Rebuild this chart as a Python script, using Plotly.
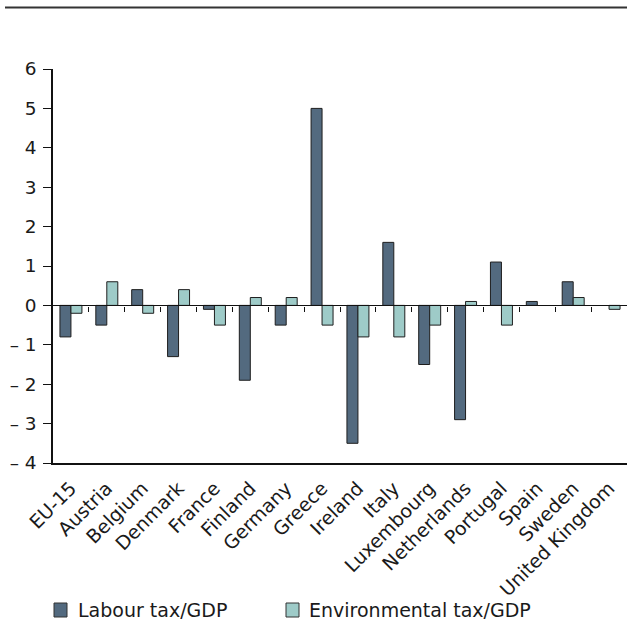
import plotly.graph_objects as go

countries = ["EU-15", "Austria", "Belgium", "Denmark", "France", "Finland",
             "Germany", "Greece", "Ireland", "Italy", "Luxembourg", "Netherlands",
             "Portugal", "Spain", "Sweden", "United Kingdom"]
labour_tax = [-0.8, -0.5, 0.4, -1.3, -0.1, -1.9, -0.5, 5.0, -3.5, 1.6, -1.5, -2.9,
              1.1, 0.1, 0.6, 0.0]
env_tax = [-0.2, 0.6, -0.2, 0.4, -0.5, 0.2, 0.2, -0.5, -0.8, -0.8, -0.5, 0.1,
           -0.5, 0.0, 0.2, -0.1]
series_names = ["Labour tax/GDP", "Environmental tax/GDP"]
y_ticks = [-4, -3, -2, -1, 0, 1, 2, 3, 4, 5, 6]
y_tick_text = ["\u2013 4", "\u2013 3", "\u2013 2", "\u2013 1", "0", "1", "2", "3", "4", "5", "6"]

FONT = "DejaVu Sans, Verdana, sans-serif"
FSIZE = 19
YSIZE = 18.5
DARK = "#536a7f"
LIGHT = "#9ecbc8"
EDGE = "#1e1e1e"
TEXT = "#1a1a1a"

W, H = 627, 621
L, R, T, B = 53, 0, 69, 158
plot_w = W - L - R
plot_h = H - T - B


def px_x(px):
    return (px - L) / plot_w


def px_y(px):
    return (T + plot_h - px) / plot_h


def edge_widths(values):
    # no outline on empty bars so they leave no sliver on the zero line
    return [0 if v == 0 else 1 for v in values]


fig = go.Figure()
fig.add_trace(go.Bar(x=list(range(len(countries))), y=labour_tax, name=series_names[0],
                     marker=dict(color=DARK, line=dict(color=EDGE, width=edge_widths(labour_tax)))))
fig.add_trace(go.Bar(x=list(range(len(countries))), y=env_tax, name=series_names[1],
                     marker=dict(color=LIGHT, line=dict(color=EDGE, width=edge_widths(env_tax)))))

y_lo, y_hi = -4, 6
zero_pos = (0 - y_lo) / (y_hi - y_lo)

# key below the chart: swatch + label for each series
shapes = [dict(type="line", xref="paper", yref="paper",
               x0=px_x(5), x1=1.0, y0=px_y(7.5), y1=px_y(7.5),
               line=dict(color="#333333", width=2))]
annotations = []
key_y = 610
for name, color, box_left, text_left in [(series_names[0], DARK, 54, 76),
                                          (series_names[1], LIGHT, 286, 307)]:
    shapes.append(dict(type="rect", xref="paper", yref="paper",
                       x0=px_x(box_left), x1=px_x(box_left + 13),
                       y0=px_y(key_y - 7), y1=px_y(key_y + 7),
                       fillcolor=color, line=dict(color="#333333", width=1)))
    annotations.append(dict(text=name, xref="paper", yref="paper",
                            x=px_x(text_left), y=px_y(key_y),
                            xanchor="left", yanchor="middle", showarrow=False,
                            font=dict(family=FONT, size=FSIZE, color=TEXT)))

fig.update_layout(
    width=W, height=H,
    margin=dict(l=L, r=R, t=T, b=B, autoexpand=False),
    paper_bgcolor="white", plot_bgcolor="white",
    font=dict(family=FONT, size=FSIZE, color=TEXT),
    barmode="group", bargap=0.387, bargroupgap=0,
    showlegend=False,
    xaxis=dict(
        range=[-0.5, len(countries) - 0.5], automargin=False,
        tickmode="array", tickvals=list(range(len(countries))), ticktext=countries,
        tickangle=-45, ticks="", showgrid=False, zeroline=False,
        ticklabelstandoff=5,
        showline=True, linecolor="#111111", linewidth=1.5,
        tickfont=dict(family=FONT, size=FSIZE, color=TEXT),
    ),
    # category axis crossing at zero, with tick marks at the category boundaries
    xaxis2=dict(
        overlaying="x", anchor="free", position=zero_pos, side="bottom",
        range=[-0.5, len(countries) - 0.5], automargin=False,
        tickmode="array", tickvals=[i + 0.5 for i in range(len(countries))],
        showticklabels=False, ticks="outside", ticklen=5, tickwidth=1.3,
        tickcolor="#111111", showline=True, linecolor="#111111", linewidth=1.3,
        showgrid=False, zeroline=False,
    ),
    yaxis=dict(
        range=[y_lo, y_hi], automargin=False,
        tickmode="array", tickvals=y_ticks, ticktext=y_tick_text,
        ticks="outside", ticklen=8, tickwidth=1.3, tickcolor="#111111",
        ticklabelstandoff=3,
        showline=True, linecolor="#111111", linewidth=1.5,
        showgrid=False, zeroline=False,
        tickfont=dict(family=FONT, size=YSIZE, color=TEXT),
    ),
    shapes=shapes,
    annotations=annotations,
)

# invisible trace binding the zero-crossing axis
fig.add_trace(go.Scatter(x=[0], y=[0], xaxis="x2", mode="markers",
                         marker=dict(opacity=0), showlegend=False, hoverinfo="skip"))

fig.write_html("out.html")
